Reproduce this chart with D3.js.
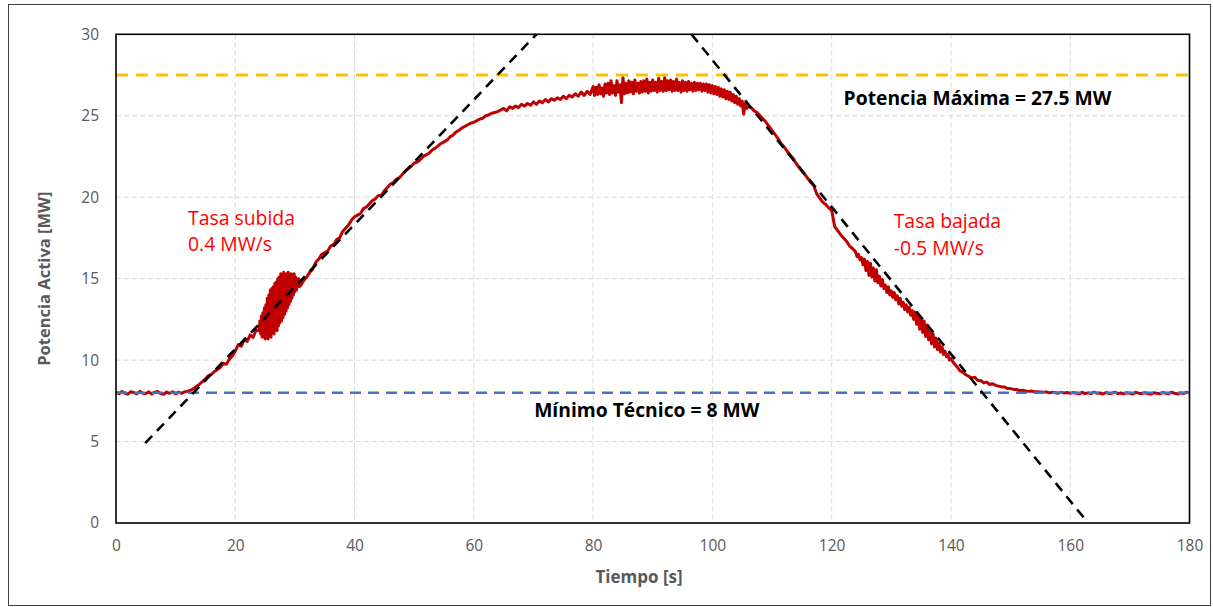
<!DOCTYPE html>
<html>
<head>
<meta charset="utf-8">
<script src="https://cdn.jsdelivr.net/npm/d3@7"></script>
<style>
  body { margin: 0; background: #fff; }
  text { font-family: "Open Sans", sans-serif; }
</style>
</head>
<body>
<svg id="chart" width="1213" height="607"></svg>
<script>
// Axis ticks
const xTicks = [0, 20, 40, 60, 80, 100, 120, 140, 160, 180];
const yTicks = [0, 5, 10, 15, 20, 25, 30];

// Reference levels (MW)
const potenciaMaxima = 27.5;
const minimoTecnico = 8;

// Ramp fit lines [tiempo s, potencia MW]
const rampaSubida = [[4.9, 4.9], [70.5, 30]];
const rampaBajada = [[96.5, 30], [163.0, 0]];

// Measured active power (MW), stored per recording stretch.
// Each stretch has its own start time and sample interval (s).

// 0 – 23.5 s, every 0.5 s
const potenciaArranque = [
  8.04, 7.94, 8.07, 7.96, 7.91, 8.06, 8.00, 7.93, 8.08, 7.97,
  7.95, 8.05, 7.92, 8.03, 8.07, 7.94, 7.90, 8.04, 7.96, 8.06,
  7.93, 8.03, 7.96, 8.06, 8.08, 8.15, 8.25, 8.38, 8.52, 8.68,
  8.85, 9.05, 9.12, 9.30, 9.42, 9.55, 9.80, 9.75, 10.05, 10.25,
  10.55, 10.95, 10.85, 11.25, 11.15, 11.55, 11.40, 11.85
];

// 24 – 31 s, every 0.125 s (oscillation during the ramp-up)
const potenciaOscilacion = [
  11.8, 12.4, 11.6, 12.7, 11.4, 12.9, 11.5, 13.2,
  11.3, 13.4, 11.4, 13.8, 11.3, 14.0, 11.5, 14.3,
  11.4, 14.4, 11.7, 14.5, 11.6, 14.7, 11.9, 14.8,
  11.8, 15.0, 12.1, 15.1, 12.3, 15.3, 12.4, 15.2,
  12.6, 15.4, 12.8, 15.2, 13.0, 15.3, 13.2, 15.4,
  13.4, 15.2, 13.6, 15.3, 13.8, 15.2, 14.0, 15.3,
  14.2, 15.1, 14.3, 15.0, 14.5, 15.0, 14.5, 14.9,
  14.6
];

// 31.5 – 79.5 s, every 0.5 s
const potenciaSubida = [
  14.90, 15.10, 15.40, 15.60, 16.00, 16.20, 16.50,
  16.60, 16.70, 17.00, 17.10, 17.40, 17.50, 17.90, 18.10, 18.30, 18.60,
  18.80, 18.90, 19.00, 19.30, 19.40, 19.60, 19.80, 19.90, 20.10, 20.10,
  20.40, 20.60, 20.80, 20.90, 21.10, 21.20, 21.40, 21.60, 21.75, 21.90,
  22.10, 22.15, 22.30, 22.50, 22.60, 22.70, 22.90, 23.00, 23.15, 23.30,
  23.40, 23.50, 23.70, 23.80, 24.00, 24.10, 24.25, 24.35, 24.45, 24.55,
  24.60, 24.70, 24.80, 24.85, 25.00, 25.05, 25.15, 25.20, 25.25, 25.35,
  25.45, 25.30, 25.55, 25.45, 25.60, 25.50, 25.70, 25.60, 25.75, 25.65,
  25.85, 25.70, 25.90, 25.80, 26.00, 25.85, 26.05, 25.95, 26.10, 26.00,
  26.20, 26.05, 26.25, 26.15, 26.35, 26.20, 26.45, 26.25, 26.50, 26.30
];

// 80 – 106 s, every 0.25 s (plateau near maximum)
const potenciaMeseta = [
  26.80, 26.25, 26.75, 26.30, 26.90, 26.35, 26.70, 26.20,
  26.95, 26.40, 27.00, 26.30, 27.15, 26.40, 26.85, 26.25,
  27.15, 26.45, 26.90, 25.80, 27.35, 26.35, 27.00, 26.40,
  27.15, 26.45, 27.05, 26.35, 27.20, 26.50, 27.00, 26.40,
  27.10, 26.45, 27.15, 26.50, 27.25, 26.40, 27.05, 26.50,
  27.20, 26.55, 27.05, 26.45, 27.30, 26.55, 27.10, 26.50,
  27.35, 26.55, 27.15, 26.60, 27.20, 26.50, 27.10, 26.55,
  27.25, 26.55, 27.05, 26.45, 27.15, 26.55, 27.05, 26.50,
  27.10, 26.60, 27.00, 26.50, 27.05, 26.55, 27.00, 26.60,
  27.00, 26.50, 26.95, 26.55, 26.95, 26.45, 26.90, 26.40,
  26.85, 26.35, 26.80, 26.30, 26.75, 26.20, 26.65, 26.15,
  26.60, 26.05, 26.50, 26.00, 26.45, 25.90, 26.30, 25.80,
  26.20, 25.70, 26.05, 25.60, 25.90, 25.10, 25.75, 25.45,
  25.55
];

// 106.5 – 123.5 s, every 0.5 s
const potenciaDescenso = [
  25.50, 25.30, 25.20, 25.00, 24.80, 24.60, 24.35,
  24.10, 23.85, 23.60, 23.30, 23.10, 22.85, 22.60, 22.40, 22.10, 21.85,
  21.60, 21.40, 21.15, 20.90, 20.70, 20.20, 19.95, 19.70, 19.55, 19.35,
  19.20, 18.20, 17.95, 17.70, 17.50, 17.30, 17.00, 16.85
];

// 124 – 140 s, every 0.25 s (noisy ramp-down)
const potenciaDescensoRuido = [
  16.65, 16.35, 16.50, 16.15, 16.30, 15.85, 16.20, 15.50,
  16.05, 15.20, 15.95, 15.10, 15.65, 14.85, 15.55, 14.75,
  15.15, 14.55, 14.95, 14.40, 14.60, 14.15, 14.50, 14.00,
  14.25, 13.85, 14.15, 13.70, 13.95, 13.45, 13.80, 13.30,
  13.55, 13.10, 13.40, 12.95, 13.25, 12.75, 13.05, 12.50,
  12.95, 12.20, 12.75, 11.90, 12.60, 11.70, 12.40, 11.45,
  12.15, 11.25, 11.90, 11.00, 11.60, 10.80, 11.35, 10.65,
  11.05, 10.50, 10.80, 10.35, 10.55, 10.20, 10.35, 10.00,
  10.10
];

// 140.5 – 180 s, every 0.5 s
const potenciaFinal = [
  9.80, 9.60, 9.35, 9.25, 9.10, 9.00, 8.90, 8.95, 8.75,
  8.75, 8.60, 8.65, 8.50, 8.55, 8.45, 8.40, 8.35, 8.35, 8.25,
  8.25, 8.20, 8.20, 8.12, 8.15, 8.10, 8.08, 8.10, 8.05, 8.06,
  8.04, 8.02, 8.05, 7.99, 8.03, 8.00, 7.97, 8.02, 7.98, 8.01,
  7.96, 8.01, 7.97, 7.93, 8.02, 7.95, 7.99, 7.94, 8.03, 7.96,
  7.98, 7.92, 8.01, 7.95, 7.97, 8.03, 7.94, 7.98, 7.93, 8.00,
  7.96, 7.92, 8.02, 7.97, 7.94, 8.00, 7.95, 7.91, 7.99, 7.96,
  7.93, 8.01, 7.97, 7.94, 8.03, 7.96, 7.92, 7.99, 7.95, 8.02,
  7.98
];

// [start time, sample interval, values]
const tramos = [
  [0, 0.5, potenciaArranque],
  [24, 0.125, potenciaOscilacion],
  [31.5, 0.5, potenciaSubida],
  [80, 0.25, potenciaMeseta],
  [106.5, 0.5, potenciaDescenso],
  [124, 0.25, potenciaDescensoRuido],
  [140.5, 0.5, potenciaFinal]
];

const svg = d3.select("#chart");
const plot = { left: 116, top: 34.3, right: 1189.5, bottom: 523 };

const x = d3.scaleLinear().domain([0, 180]).range([plot.left, plot.right]);
const y = d3.scaleLinear().domain([0, 30]).range([plot.bottom, plot.top]);

const grey = "#595959";

// Outer frame
svg.append("rect")
  .attr("x", 8.5).attr("y", 4.5)
  .attr("width", 1202).attr("height", 601)
  .attr("fill", "none").attr("stroke", "#404040").attr("stroke-width", 1);

// Grid
const grid = svg.append("g").attr("stroke", "#d9d9d9").attr("stroke-width", 1)
  .attr("stroke-dasharray", "5,3");
grid.selectAll("line.v").data(xTicks.filter(d => d > 0 && d < 180)).join("line")
  .attr("x1", d => x(d)).attr("x2", d => x(d))
  .attr("y1", plot.top).attr("y2", plot.bottom);
grid.selectAll("line.h").data(yTicks.filter(d => d > 0 && d < 30)).join("line")
  .attr("x1", plot.left).attr("x2", plot.right)
  .attr("y1", d => y(d)).attr("y2", d => y(d));

// Axes (labels only; the frame is drawn as a box)
const xAxis = d3.axisBottom(x).tickValues(xTicks).tickSize(0).tickPadding(17);
const yAxis = d3.axisLeft(y).tickValues(yTicks).tickSize(0).tickPadding(17);
const gx = svg.append("g").attr("transform", `translate(0,${plot.bottom})`).call(xAxis);
const gy = svg.append("g").attr("transform", `translate(${plot.left},0)`).call(yAxis);
[gx, gy].forEach(g => {
  g.select(".domain").remove();
  g.selectAll("text").attr("fill", grey).style("font-size", "15.5px")
    .style("font-family", '"Open Sans", sans-serif');
});

// Measured power
const serie = tramos.flatMap(([t0, dt, vals]) => vals.map((v, i) => [t0 + i * dt, v]));
const linea = d3.line().x(d => x(d[0])).y(d => y(d[1]));
svg.append("path").datum(serie)
  .attr("d", linea)
  .attr("fill", "none").attr("stroke", "#c00000").attr("stroke-width", 3)
  .attr("stroke-linejoin", "round");

// Reference levels
svg.append("line")
  .attr("x1", plot.left).attr("x2", plot.right)
  .attr("y1", y(potenciaMaxima)).attr("y2", y(potenciaMaxima))
  .attr("stroke", "#ffc000").attr("stroke-width", 3).attr("stroke-dasharray", "12,8");
svg.append("line")
  .attr("x1", plot.left).attr("x2", plot.right)
  .attr("y1", y(minimoTecnico)).attr("y2", y(minimoTecnico))
  .attr("stroke", "#4472c4").attr("stroke-width", 2.5).attr("stroke-dasharray", "11,7");

// Ramp fit lines
[rampaSubida, rampaBajada].forEach(r => {
  svg.append("path").datum(r)
    .attr("d", linea)
    .attr("fill", "none").attr("stroke", "#000").attr("stroke-width", 2.6)
    .attr("stroke-dasharray", "10,7");
});

// Plot box
svg.append("rect")
  .attr("x", plot.left).attr("y", plot.top)
  .attr("width", plot.right - plot.left).attr("height", plot.bottom - plot.top)
  .attr("fill", "none").attr("stroke", "#000").attr("stroke-width", 1.6);

// Annotations
svg.append("text")
  .attr("x", x(122.0)).attr("y", y(25.66))
  .attr("font-weight", "bold").attr("font-size", 19.3).attr("fill", "#000")
  .text("Potencia Máxima = 27.5 MW");
svg.append("text")
  .attr("x", x(89.0)).attr("y", y(6.5)).attr("text-anchor", "middle")
  .attr("font-weight", "bold").attr("font-size", 19.3).attr("fill", "#000")
  .text("Mínimo Técnico = 8 MW");

const rojo = "#ff0000";
const fsRojo = 19.4;
svg.append("text").attr("x", x(12.07)).attr("y", y(18.32))
  .attr("font-size", fsRojo).attr("fill", rojo).text("Tasa subida");
svg.append("text").attr("x", x(12.07)).attr("y", y(16.7))
  .attr("font-size", fsRojo).attr("fill", rojo).text("0.4 MW/s");
svg.append("text").attr("x", x(130.4)).attr("y", y(18.09))
  .attr("font-size", fsRojo).attr("fill", rojo).text("Tasa bajada");
svg.append("text").attr("x", x(130.4)).attr("y", y(16.45))
  .attr("font-size", fsRojo).attr("fill", rojo).text("-0.5 MW/s");

// Axis titles
svg.append("text")
  .attr("x", 639).attr("y", 583).attr("text-anchor", "middle")
  .attr("font-weight", "bold").attr("font-size", 17).attr("fill", grey)
  .text("Tiempo [s]");
svg.append("text")
  .attr("transform", `translate(50,${(plot.top + plot.bottom) / 2}) rotate(-90)`)
  .attr("text-anchor", "middle")
  .attr("font-weight", "bold").attr("font-size", 16.5).attr("fill", grey)
  .text("Potencia Activa [MW]");
</script>
</body>
</html>
